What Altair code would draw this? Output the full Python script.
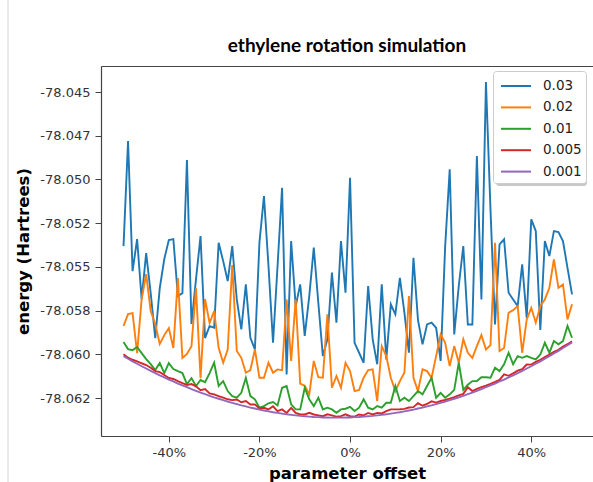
import altair as alt
import pandas as pd

# ---------------- data ----------------
offset = [-0.50, -0.49, -0.48, -0.47, -0.46, -0.45, -0.44, -0.43, -0.42, -0.41,
          -0.40, -0.39, -0.38, -0.37, -0.36, -0.35, -0.34, -0.33, -0.32, -0.31,
          -0.30, -0.29, -0.28, -0.27, -0.26, -0.25, -0.24, -0.23, -0.22, -0.21,
          -0.20, -0.19, -0.18, -0.17, -0.16, -0.15, -0.14, -0.13, -0.12, -0.11,
          -0.10, -0.09, -0.08, -0.07, -0.06, -0.05, -0.04, -0.03, -0.02, -0.01,
          0.00, 0.01, 0.02, 0.03, 0.04, 0.05, 0.06, 0.07, 0.08, 0.09,
          0.10, 0.11, 0.12, 0.13, 0.14, 0.15, 0.16, 0.17, 0.18, 0.19,
          0.20, 0.21, 0.22, 0.23, 0.24, 0.25, 0.26, 0.27, 0.28, 0.29,
          0.30, 0.31, 0.32, 0.33, 0.34, 0.35, 0.36, 0.37, 0.38, 0.39,
          0.40, 0.41, 0.42, 0.43, 0.44, 0.45, 0.46, 0.47, 0.48, 0.49]

e_003 = [-78.05381, -78.04780, -78.05524, -78.05341, -78.05684, -78.05421, -78.05650, -78.05907, -78.05621, -78.05455,
         -78.05346, -78.05341, -78.05667, -78.05650, -78.04889, -78.05827, -78.05570, -78.05324, -78.05907, -78.05838,
         -78.05848, -78.05362, -78.05467, -78.05581, -78.05381, -78.05686, -78.05857, -78.05600, -78.05905, -78.05972,
         -78.05362, -78.05095, -78.05495, -78.05934, -78.05495, -78.05047, -78.06115, -78.05352, -78.05724, -78.05600,
         -78.05895, -78.05667, -78.05390, -78.05705, -78.06010, -78.05914, -78.05533, -78.05819, -78.05352, -78.05648,
         -78.04990, -78.05934, -78.05991, -78.06048, -78.05609, -78.05914, -78.06057, -78.05600, -78.06029, -78.05714,
         -78.05771, -78.05562, -78.05762, -78.05991, -78.05448, -78.05804, -78.05943, -78.05829, -78.05819, -78.05848,
         -78.06038, -78.05381, -78.04942, -78.05886, -78.05609, -78.05381, -78.05829, -78.05829, -78.04866, -78.05686,
         -78.04443, -78.05171, -78.05829, -78.05371, -78.05342, -78.05648, -78.05686, -78.05724, -78.05485, -78.05791,
         -78.05228, -78.05295, -78.05861, -78.05352, -78.05438, -78.05295, -78.05301, -78.05352, -78.05505, -78.05657]

e_002 = [-78.05838, -78.05770, -78.05764, -78.05993, -78.05684, -78.05541, -78.05752, -78.05827, -78.05941, -78.05890,
         -78.05850, -78.05964, -78.05564, -78.06021, -78.05998, -78.05953, -78.05621, -78.06136, -78.05684, -78.05821,
         -78.05752, -78.05962, -78.06048, -78.05972, -78.05489, -78.05981, -78.06020, -78.06105, -78.06090, -78.05972,
         -78.06134, -78.06134, -78.06048, -78.06105, -78.06086, -78.06090, -78.05686, -78.06038, -78.05686, -78.06167,
         -78.06180, -78.06229, -78.06038, -78.06131, -78.06134, -78.05771, -78.06191, -78.06124, -78.06191, -78.06048,
         -78.06096, -78.06210, -78.06203, -78.06134, -78.06090, -78.06086, -78.06267, -78.05953, -78.06010, -78.06134,
         -78.06210, -78.06153, -78.06105, -78.05667, -78.06134, -78.06210, -78.06086, -78.06096, -78.06134, -78.06010,
         -78.05886, -78.05934, -78.06067, -78.05953, -78.06048, -78.05914, -78.05991, -78.06020, -78.05953, -78.05890,
         -78.05972, -78.05947, -78.05362, -78.05981, -78.05964, -78.05762, -78.05747, -78.05724, -78.05991, -78.05800,
         -78.05734, -78.05819, -78.05724, -78.05686, -78.05619, -78.05457, -78.05619, -78.05600, -78.05800, -78.05714]

e_001 = [-78.05930, -78.05970, -78.05976, -78.05958, -78.05993, -78.06027, -78.06056, -78.06090, -78.06050, -78.06107,
         -78.06050, -78.06084, -78.06096, -78.06107, -78.06170, -78.06136, -78.06181, -78.06147, -78.06159, -78.06107,
         -78.06048, -78.06181, -78.06153, -78.06210, -78.06239, -78.06248, -78.06220, -78.06134, -78.06239, -78.06257,
         -78.06305, -78.06296, -78.06280, -78.06273, -78.06292, -78.06191, -78.06181, -78.06286, -78.06315, -78.06315,
         -78.06191, -78.06257, -78.06296, -78.06248, -78.06315, -78.06305, -78.06315, -78.06334, -78.06315, -78.06311,
         -78.06300, -78.06324, -78.06305, -78.06257, -78.06305, -78.06315, -78.06296, -78.06305, -78.06277, -78.06277,
         -78.06181, -78.06267, -78.06248, -78.06267, -78.06239, -78.06210, -78.06229, -78.06181, -78.06134, -78.06248,
         -78.06220, -78.06248, -78.06229, -78.06203, -78.06048, -78.06203, -78.06174, -78.06153, -78.06153, -78.06131,
         -78.06131, -78.06134, -78.06077, -78.06096, -78.06057, -78.05991, -78.06057, -78.06010, -78.06020, -78.06010,
         -78.06020, -78.06029, -78.06001, -78.05934, -78.05991, -78.05924, -78.05943, -78.05924, -78.05838, -78.05905]

e_0005 = [-78.05999, -78.06019, -78.06031, -78.06040, -78.06051, -78.06061, -78.06077, -78.06096, -78.06102, -78.06118,
          -78.06135, -78.06141, -78.06153, -78.06164, -78.06175, -78.06170, -78.06183, -78.06205, -78.06199, -78.06223,
          -78.06229, -78.06239, -78.06248, -78.06257, -78.06262, -78.06258, -78.06274, -78.06267, -78.06287, -78.06286,
          -78.06310, -78.06306, -78.06315, -78.06297, -78.06325, -78.06315, -78.06335, -78.06306, -78.06335, -78.06344,
          -78.06344, -78.06334, -78.06344, -78.06349, -78.06354, -78.06343, -78.06349, -78.06357, -78.06353, -78.06343,
          -78.06354, -78.06356, -78.06344, -78.06349, -78.06335, -78.06344, -78.06335, -78.06338, -78.06325, -78.06315,
          -78.06315, -78.06314, -78.06312, -78.06304, -78.06302, -78.06279, -78.06294, -78.06284, -78.06269, -78.06276,
          -78.06267, -78.06261, -78.06253, -78.06245, -78.06235, -78.06226, -78.06188, -78.06210, -78.06198, -78.06188,
          -78.06179, -78.06169, -78.06158, -78.06146, -78.06115, -78.06123, -78.06109, -78.06093, -78.06085, -78.06058,
          -78.06059, -78.06043, -78.06031, -78.06016, -78.06001, -78.05986, -78.05974, -78.05955, -78.05942, -78.05926]

e_0001 = [-78.06010, -78.06025, -78.06040, -78.06054, -78.06068, -78.06081, -78.06094, -78.06107, -78.06120, -78.06132,
          -78.06144, -78.06155, -78.06167, -78.06178, -78.06188, -78.06199, -78.06209, -78.06219, -78.06228, -78.06237,
          -78.06246, -78.06254, -78.06262, -78.06270, -78.06278, -78.06285, -78.06292, -78.06298, -78.06305, -78.06310,
          -78.06316, -78.06321, -78.06326, -78.06331, -78.06335, -78.06339, -78.06343, -78.06346, -78.06349, -78.06352,
          -78.06354, -78.06356, -78.06358, -78.06359, -78.06361, -78.06361, -78.06362, -78.06362, -78.06362, -78.06361,
          -78.06361, -78.06359, -78.06358, -78.06356, -78.06354, -78.06352, -78.06349, -78.06346, -78.06343, -78.06339,
          -78.06335, -78.06331, -78.06326, -78.06321, -78.06316, -78.06310, -78.06305, -78.06298, -78.06292, -78.06285,
          -78.06278, -78.06270, -78.06262, -78.06254, -78.06246, -78.06237, -78.06228, -78.06219, -78.06209, -78.06199,
          -78.06188, -78.06178, -78.06167, -78.06155, -78.06144, -78.06132, -78.06120, -78.06107, -78.06094, -78.06081,
          -78.06068, -78.06054, -78.06040, -78.06025, -78.06010, -78.05995, -78.05980, -78.05964, -78.05948, -78.05932]

series_labels = ["0.03", "0.02", "0.01", "0.005", "0.001"]
series_colors = ["#1f77b4", "#ff7f0e", "#2ca02c", "#d62728", "#9467bd"]

y_ticks = [-78.045, -78.0475, -78.05, -78.0525, -78.055, -78.0575, -78.06, -78.0625]
y_tick_labels = ["-78.045", "-78.047", "-78.050", "-78.052", "-78.055", "-78.058", "-78.060", "-78.062"]
x_ticks = [-0.4, -0.2, 0.0, 0.2, 0.4]

# ---------------- table ----------------
rows = []
for lab, vals in zip(series_labels, [e_003, e_002, e_001, e_0005, e_0001]):
    for x, v in zip(offset, vals):
        rows.append({"offset": x, "energy": v, "noise": lab})
df = pd.DataFrame(rows)

x_scale = alt.Scale(domain=[-0.5497, 0.5363], nice=False, zero=False)
y_scale = alt.Scale(domain=[-78.06467, -78.04351], nice=False, zero=False)

y_label_expr = "[" + ",".join("'%s'" % s for s in y_tick_labels) + "][round((-78.045 - datum.value) / 0.0025)]"
x_label_expr = "replace(format(datum.value, '.0%'), '\u2212', '-')"

AX = "#444444"

lines = alt.Chart(df).mark_line(strokeWidth=1.9).encode(
    x=alt.X("offset:Q", scale=x_scale,
            axis=alt.Axis(values=x_ticks, labelExpr=x_label_expr, grid=False,
                          domain=True, domainColor=AX, domainWidth=1.2,
                          tickColor=AX, tickSize=6, labelPadding=4,
                          labelFont="DejaVu Sans", labelFontSize=13, labelColor="#333333",
                          title="parameter offset", titleFont="DejaVu Sans", titleFontSize=16.5,
                          titleFontWeight="bold", titleColor="black",
                          titleX=246, titleY=42, titleBaseline="alphabetic", titleAlign="center")),
    y=alt.Y("energy:Q", scale=y_scale,
            axis=alt.Axis(values=y_ticks, labelExpr=y_label_expr, grid=False,
                          domain=True, domainColor=AX, domainWidth=1.2,
                          tickColor=AX, tickSize=6, labelPadding=5,
                          labelFont="DejaVu Sans", labelFontSize=13, labelColor="#333333",
                          title="energy (Hartrees)", titleFont="DejaVu Sans", titleFontSize=16.5,
                          titleFontWeight="bold", titleColor="black",
                          titleX=-78, titleY=185, titleAngle=270,
                          titleAlign="center", titleBaseline="middle")),
    color=alt.Color("noise:N",
                    scale=alt.Scale(domain=series_labels, range=series_colors),
                    legend=alt.Legend(orient="none", legendX=392, legendY=5, title=None,
                                      symbolType="M-1.5,0H1.5", symbolSize=400,
                                      symbolStrokeWidth=2, symbolOffset=8, labelOffset=16,
                                      labelFont="DejaVu Sans", labelFontSize=13.5,
                                      labelColor="#222222", padding=4, rowPadding=3.4,
                                      strokeColor="#cccccc", fillColor="white",
                                      cornerRadius=3)),
)

top_spine = alt.Chart(df).mark_line(opacity=0).encode(
    x=alt.X("offset:Q", scale=x_scale,
            axis=alt.Axis(orient="top", labels=False, ticks=False, title=None, grid=False,
                          domain=True, domainColor=AX, domainWidth=1.2)),
    y=alt.Y("energy:Q", scale=y_scale,
            axis=alt.Axis(orient="right", labels=False, ticks=False, title=None, grid=False,
                          domain=False)),
)

# legend drop shadow (decoration, drawn under the legend box)
legend_shadow = alt.Chart(alt.Data(values=[{}])).mark_rect(
    color="#9a9a9a", opacity=0.55, cornerRadius=3
).encode(x=alt.value(395), x2=alt.value(486), y=alt.value(8), y2=alt.value(120))

edge = alt.Chart(alt.Data(values=[{}])).mark_rule(color="#d4d4d4", strokeWidth=1).encode(
    x=alt.value(-93), y=alt.value(-66), y2=alt.value(416)
)

chart = alt.layer(lines, top_spine, legend_shadow, edge).resolve_axis(
    x="independent", y="independent"
).properties(
    width=492, height=370,
    padding={"left": 101, "top": 66, "right": 0, "bottom": 46},
    autosize=alt.AutoSizeParams(type="none"),
    title=alt.TitleParams("ethylene rotation simulation", font="Lato", fontWeight="bold",
                          fontSize=19, anchor="middle", offset=-56, color="black"),
).configure_view(stroke=None).configure(background="white")

chart.save("out.html", embed_options={"renderer": "svg", "actions": False})
